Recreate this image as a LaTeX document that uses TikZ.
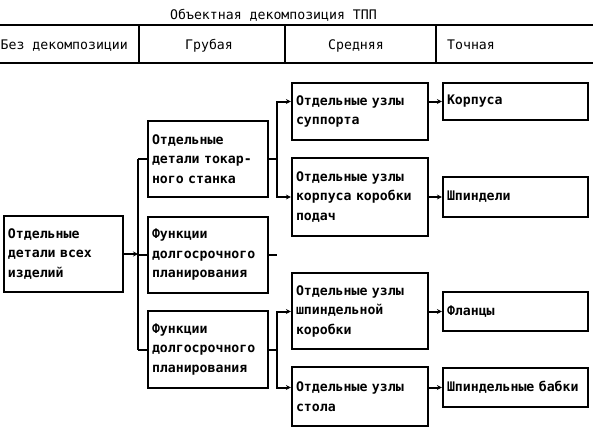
\documentclass[tikz,border=0pt]{standalone}
\usepackage{fontspec}
\newfontfamily\pixfont{DejaVu Sans Mono Bold}
\newfontfamily\headfont{DejaVu Sans Mono}
\usetikzlibrary{calc,arrows.meta}

\begin{document}
\begin{tikzpicture}[x=1pt, y=-1pt]
  \useasboundingbox (0,0) rectangle (593,432);

  \tikzset{
    blk node/.style={draw, line width=2.2pt, inner xsep=4pt, inner ysep=0pt, align=left,
      font=\pixfont\fontsize{13.2}{19.5}\selectfont},
    head text/.style={inner sep=0pt, anchor=west, text height=10pt, text depth=3pt,
      font=\headfont\fontsize{13.2}{15}\selectfont},
    rule line/.style={line width=2pt},
    link/.style={line width=2pt},
    arrow link/.style={link, -{Stealth[length=5pt, width=5pt]}},
  }

  % #1 name, #2 left, #3 top, #4 right, #5 bottom, #6 text
  \newcommand{\drawblock}[6]{
    \pgfmathsetmacro{\bw}{#4-#2}
    \pgfmathsetmacro{\bh}{#5-#3}
    \pgfmathsetmacro{\tw}{#4-#2-8}
    \node[blk node, minimum width=\bw pt, minimum height=\bh pt, text width=\tw pt]
      (#1) at ({(#2+#4)/2},{(#3+#5)/2}) {#6};
  }

  % title and header row
  \node[head text] (title) at (170,16) {Объектная декомпозиция ТПП};
  \draw[rule line] (0,25) -- (593,25);
  \draw[rule line] (0,63) -- (593,63);
  \foreach \xs in {139,285,436}
    \draw[rule line] (\xs,25) -- (\xs,63);
  \node[head text] (hnone)   at (0.5,46) {Без декомпозиции};
  \node[head text] (hrough)  at (185,46) {Грубая};
  \node[head text] (hmiddle) at (328,46) {Средняя};
  \node[head text] (hfine)   at (447,46) {Точная};

  % blocks
  \drawblock{root}{4}{216}{123}{292}{Отдельные\\детали всех\\изделий}
  \drawblock{lathe}{148}{121}{268}{197}{Отдельные\\детали токар-\\ного станка}
  \drawblock{planA}{148}{217}{268}{293}{Функции\\долгосрочного\\планирования}
  \drawblock{planB}{148}{311}{268}{388}{Функции\\долгосрочного\\планирования}

  \drawblock{slide}{292}{83}{428}{140}{Отдельные узлы\\суппорта}
  \drawblock{feed}{292}{158}{428}{236}{Отдельные узлы\\корпуса коробки\\подач}
  \drawblock{head}{292}{273}{428}{349}{Отдельные узлы\\шпиндельной\\коробки}
  \drawblock{table}{292}{367}{428}{426}{Отдельные узлы\\стола}

  \drawblock{body}{443}{83}{588}{120}{Корпуса}
  \drawblock{spindle}{443}{177}{588}{217}{Шпиндели}
  \drawblock{flange}{443}{292}{588}{331}{Фланцы}
  \drawblock{stock}{443}{368}{588}{407}{Шпиндельные бабки}

  % spines
  \coordinate (sA) at (138,0);
  \coordinate (sB) at (277,0);

  % root -> rough level
  \draw[arrow link] (root.east) -- (root.east -| sA);
  \draw[link] (lathe.west -| sA) -- (planB.west -| sA);
  \foreach \b in {lathe,planA,planB}
    \draw[link] (\b.west -| sA) -- (\b.west);

  % rough -> middle level
  \draw[link] (lathe.east) -- (lathe.east -| sB);
  \draw[arrow link] (lathe.east -| sB) |- (slide.west |- body.west);
  \draw[arrow link] (lathe.east -| sB) |- (feed.west |- spindle.west);
  \draw[link] (planA.east) -- (planA.east -| sB);
  \draw[link] (planB.east) -- (planB.east -| sB);
  \draw[arrow link] (planB.east -| sB) |- (head.west |- flange.west);
  \draw[arrow link] (planB.east -| sB) |- (table.west |- stock.west);

  % middle -> fine level
  \draw[arrow link] (slide.east |- body.west) -- (body.west);
  \draw[arrow link] (feed.east |- spindle.west) -- (spindle.west);
  \draw[arrow link] (head.east |- flange.west) -- (flange.west);
  \draw[arrow link] (table.east |- stock.west) -- (stock.west);
\end{tikzpicture}
\end{document}
